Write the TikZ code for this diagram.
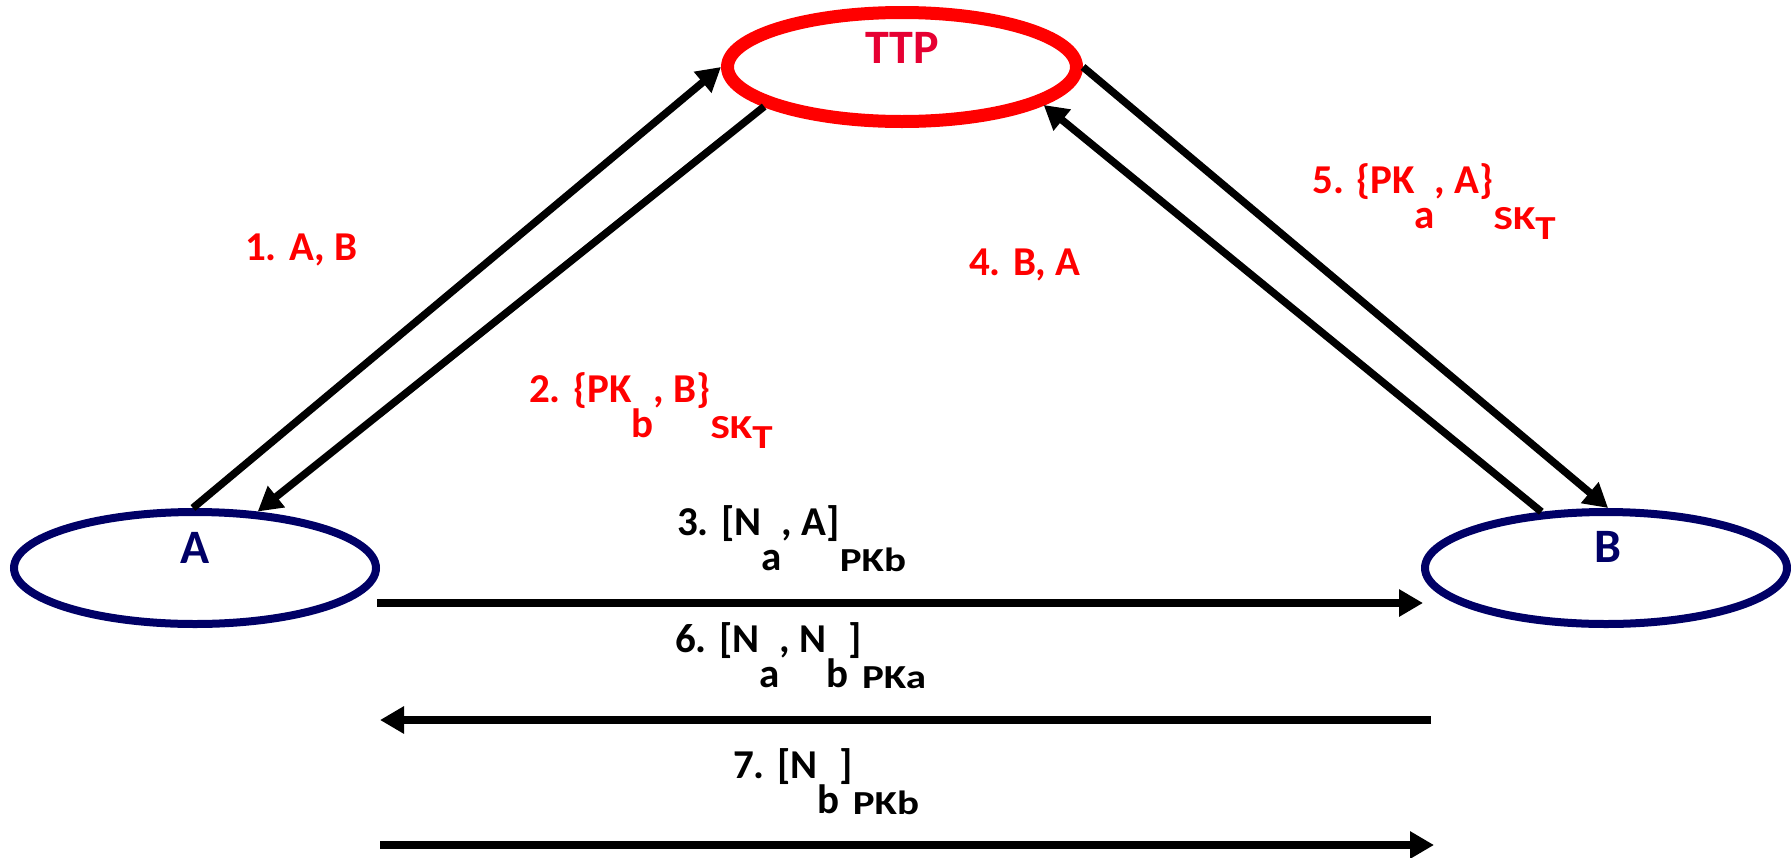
\documentclass[tikz,border=0pt]{standalone}
\usepackage{fontspec}
\usepackage{graphicx}
\setmainfont{Carlito}
\usetikzlibrary{arrows.meta,shapes.geometric}
\definecolor{ttpred}{RGB}{255,0,0}
\definecolor{ttptext}{RGB}{230,0,50}
\definecolor{navy}{RGB}{0,0,102}
\newcommand{\dn}[1]{\raisebox{-35pt}{#1}}
\newcommand{\dnn}[1]{\raisebox{-36pt}{\scalebox{1}[0.82]{#1}}}
\newcommand{\tsub}[1]{\raisebox{-13pt}{#1}}
\begin{document}
\begin{tikzpicture}[x=1pt,y=-1pt,
  every node/.style={font=\fontsize{41}{49}\selectfont\bfseries},
  party/.style={draw=navy, line width=8pt, ellipse, minimum width=362pt, minimum height=112pt, inner sep=0pt},
  ttpbox/.style={draw=ttpred, line width=13pt, ellipse, minimum width=349pt, minimum height=109pt, inner sep=0pt},
  partylabel/.style={font=\fontsize{48}{57}\selectfont\bfseries, anchor=base, inner sep=0pt},
  msg/.style={anchor=base west, inner sep=0pt},
  redmsg/.style={msg, text=ttpred},
  arr/.style={line width=7.5pt, -{Triangle[length=24pt,width=26pt]}}]
\useasboundingbox (0,0) rectangle (1791,857);
% parties
\node[ttpbox] (TTP) at (902,67) {};
\node[party] (A) at (195,568) {};
\node[party] (B) at (1606,568) {};
\node[partylabel, text=ttptext] (TTPlab) at (902,63) {TTP};
\node[partylabel, text=navy] (Alab) at (195,563) {A};
\node[partylabel, text=navy] (Blab) at (1608,562) {B};
% diagonal messages
\draw[arr] (A.92) -- (TTP.180);
\draw[arr] (TTP.196) -- (A.42.5);
\draw[arr] (B.139.7) -- (TTP.345.6);
\draw[arr] (TTP.0) -- (B.88);
% horizontal messages
\coordinate (a3) at (377,603); \coordinate (b3) at (1423,603);
\coordinate (b6) at (1431,720); \coordinate (a6) at (380,720);
\coordinate (a7) at (380,845); \coordinate (b7) at (1434,845);
\draw[arr] (a3) -- (b3);
\draw[arr] (b6) -- (a6);
\draw[arr] (a7) -- (b7);
% labels
\node[redmsg] (m1) at (245,260) {1. A, B};
\node[redmsg] (m2) at (529,402) {2. \{PK\dn{b}, B\}\dnn{SK\tsub{T}}};
\node[msg] (m3) at (677,535) {3. [N\dn{a}, A]\dnn{PKb}};
\node[redmsg] (m4) at (969,275) {4. B, A};
\node[redmsg] (m5) at (1312,193) {5. \{PK\dn{a}, A\}\dnn{SK\tsub{T}}};
\node[msg] (m6) at (675,652) {6. [N\dn{a}, N\dn{b}]\dnn{PKa}};
\node[msg] (m7) at (733,778) {7. [N\dn{b}]\dnn{PKb}};
\end{tikzpicture}
\end{document}
